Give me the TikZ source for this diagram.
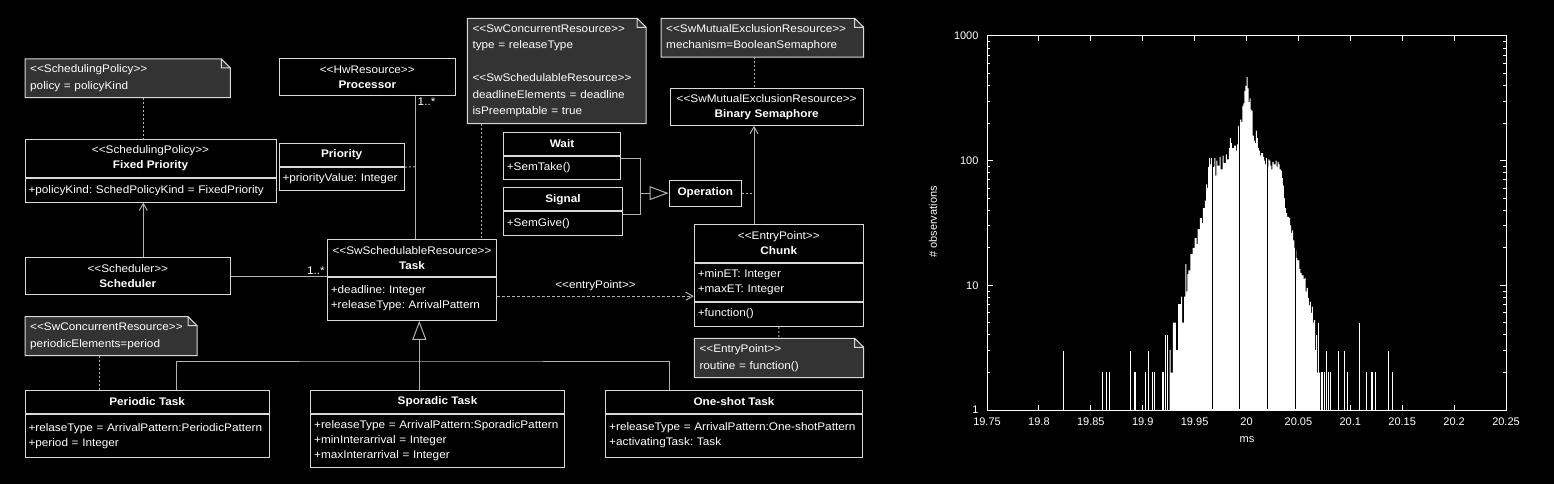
\documentclass[tikz,border=0pt]{standalone}
\usepackage{fontspec}
\setmainfont{Liberation Sans}[FakeStretch=1.07]
\newfontfamily\plotfont{Liberation Sans}
\usetikzlibrary{arrows.meta}
\usetikzlibrary{positioning}

\definecolor{boxline}{gray}{0.85}
\definecolor{linkline}{gray}{0.7}
\definecolor{notefill}{gray}{0.2}

\newcommand\stereo[1]{<\kern0pt<#1>\kern0pt>}
\frenchspacing

\tikzset{
  umltext/.style={text=white, font=\fontsize{11}{15}\selectfont},
  classhead/.style={umltext, draw=boxline, fill=black, line width=1pt, align=center, inner sep=2pt},
  classbody/.style={umltext, draw=boxline, fill=black, line width=1pt, align=left, inner xsep=3.5pt, inner ysep=2pt},
  umlnote/.style={umltext, font=\fontsize{11}{16.5}\selectfont, fill=notefill, anchor=north west, align=left, inner xsep=5pt, inner ysep=2pt},
  noteline/.style={draw=boxline, line width=1pt},
  assoc/.style={draw=linkline, line width=1pt},
  notelink/.style={assoc, dash pattern=on 2pt off 2pt},
  depend/.style={assoc, dash pattern=on 3pt off 2pt},
  navarrow/.style={-{Straight Barb[length=7pt, width=8pt]}},
  genarrow/.style={-{Triangle[open, length=19pt, width=14pt]}},
  linklabel/.style={umltext, inner sep=1.5pt},
  axisline/.style={draw=white, line width=1pt},
  ticklabel/.style={text=white, font=\plotfont\fontsize{11}{13}\selectfont},
}

\begin{document}
\begin{tikzpicture}[x=1pt, y=-1pt]
  \fill[black] (0,0) rectangle (1554,484);

  % notes
  \node[umlnote, text width=195pt, minimum height=38.3pt] (polnote) at (25,59) {\stereo{SchedulingPolicy}\\policy = policyKind};
  \node[umlnote, text width=168.4pt, minimum height=105pt] (tasknote) at (467.3,18.3) {\stereo{SwConcurrentResource}\\type = releaseType\\[16.5pt]\stereo{SwSchedulableResource}\\deadlineElements = deadline\\isPreemptable = true};
  \node[umlnote, text width=192.3pt, minimum height=38.4pt] (mutexnote) at (661,18.3) {\stereo{SwMutualExclusionResource}\\mechanism=BooleanSemaphore};
  \node[umlnote, text width=161.7pt, minimum height=38.6pt] (periodicnote) at (25,316.7) {\stereo{SwConcurrentResource}\\periodicElements=period};
  \node[umlnote, text width=159pt, minimum height=39pt] (chunknote) at (694.3,338.3) {\stereo{EntryPoint}\\routine = function()};
  \foreach \n in {polnote,tasknote,mutexnote,periodicnote,chunknote} {
    \fill[black] ([xshift=-9pt]\n.north east) -- (\n.north east) -- ([yshift=-9pt]\n.north east) -- cycle;
    \draw[noteline] (\n.south west) -- (\n.north west) -- ([xshift=-9pt]\n.north east) -- ([yshift=-9pt]\n.north east) -- (\n.south east) -- cycle
      ([xshift=-9pt]\n.north east) |- ([yshift=-9pt]\n.north east);
  }

  % classes
  \node[classhead, minimum width=251pt, minimum height=38.4pt] (fixed) at (150.5,158.5) {\stereo{SchedulingPolicy}\\\textbf{Fixed Priority}};
  \node[classbody, text width=244pt, minimum height=23.3pt, below=0pt of fixed] (fixedattr) {+policyKind: SchedPolicyKind = FixedPriority};

  \node[classhead, minimum width=125.3pt, minimum height=23.4pt] (prio) at (341.65,155) {\textbf{Priority}};
  \node[classbody, text width=118.3pt, minimum height=22.6pt, below=0pt of prio] (prioattr) {+priorityValue: Integer};

  \node[classhead, minimum width=176pt, minimum height=37pt] (proc) at (367.3,76.8) {\stereo{HwResource}\\\textbf{Processor}};
  \node[classhead, minimum width=205.7pt, minimum height=37pt] (sched) at (127.85,276.2) {\stereo{Scheduler}\\\textbf{Scheduler}};

  \node[classhead, minimum width=169.4pt, minimum height=36.7pt] (task) at (412,257.65) {\stereo{SwSchedulableResource}\\\textbf{Task}};
  \node[classbody, text width=162.4pt, minimum height=43.3pt, below=0pt of task] (taskattr) {+deadline: Integer\\+releaseType: ArrivalPattern};

  \node[classhead, minimum width=244.3pt, minimum height=23.3pt] (periodic) at (147.15,401.65) {\textbf{Periodic Task}};
  \node[classbody, text width=237.3pt, minimum height=43.4pt, below=0pt of periodic] (periodicattr) {+relaseType = ArrivalPattern:PeriodicPattern\\+period = Integer};

  \node[classhead, minimum width=253.6pt, minimum height=23.3pt] (sporadic) at (437.5,401.65) {\textbf{Sporadic Task}};
  \node[classbody, text width=246.6pt, minimum height=53.4pt, below=0pt of sporadic] (sporadicattr) {+releaseType = ArrivalPattern:SporadicPattern\\+minInterarrival = Integer\\+maxInterarrival = Integer};

  \node[classhead, minimum width=256.6pt, minimum height=22.6pt] (oneshot) at (734,402) {\textbf{One-shot Task}};
  \node[classbody, text width=249.6pt, minimum height=42.7pt, below=0pt of oneshot] (oneshotattr) {+releaseType = ArrivalPattern:One-shotPattern\\+activatingTask: Task};

  \node[classhead, minimum width=117.4pt, minimum height=23pt] (wait) at (562,143.8) {\textbf{Wait}};
  \node[classbody, text width=110.4pt, minimum height=23.4pt, below=0pt of wait] (waitop) {+SemTake()};

  \node[classhead, minimum width=119.4pt, minimum height=23pt] (signal) at (563,199.2) {\textbf{Signal}};
  \node[classbody, text width=112.4pt, minimum height=23.3pt, below=0pt of signal] (signalop) {+SemGive()};

  \node[classhead, minimum width=72.7pt, minimum height=25.7pt] (oper) at (705.35,193.15) {\textbf{Operation}};
  \node[classhead, minimum width=193.3pt, minimum height=37pt] (binsem) at (766.65,106.8) {\stereo{SwMutualExclusionResource}\\\textbf{Binary Semaphore}};

  \node[classhead, minimum width=169pt, minimum height=37.6pt] (chunk) at (778.8,243.5) {\stereo{EntryPoint}\\\textbf{Chunk}};
  \node[classbody, text width=162pt, minimum height=37.7pt, below=0pt of chunk] (chunkattr) {+minET: Integer\\+maxET: Integer};
  \node[classbody, text width=162pt, minimum height=24.3pt, below=0pt of chunkattr] (chunkop) {+function()};

  % connectors
  \draw[notelink] (143.3,0 |- polnote.south) -- (143.3,0 |- fixed.north);
  \draw[assoc, navarrow] (143.3,0 |- sched.north) -- (143.3,0 |- fixedattr.south);
  \draw[assoc] (sched.east) -- node[linklabel, pos=1, above left] {1..*} (sched.east -| task.west);

  \coordinate (prioline) at (415.7,166.7);
  \draw[assoc] (415.7,0 |- proc.south) -- node[linklabel, pos=0, below right] {1..*} (415.7,0 |- task.north);
  \draw[notelink] (prio.south east) -- (prioline);
  \draw[notelink] (481.7,0 |- tasknote.south) -- (481.7,0 |- task.north);

  \coordinate (opjoin) at (640,193.15);
  \draw[assoc] ([yshift=-3pt]wait.south east) -| (opjoin) |- ([yshift=-3pt]signal.south east);
  \draw[assoc, genarrow] (opjoin) -- (oper.west);
  \coordinate (semline) at (754,193.15);
  \draw[notelink] (oper.east) -- (semline);
  \draw[assoc, navarrow] (754,0 |- chunk.north) -- (754,0 |- binsem.south);
  \draw[notelink] (754,0 |- mutexnote.south) -- (754,0 |- binsem.north);

  \draw[depend, navarrow] ([yshift=2.5pt]taskattr.east) -- node[linklabel, above=3pt] {\stereo{entryPoint}} ([yshift=2.5pt]taskattr.east -| chunkattr.west);
  \draw[notelink] (chunkop.south) -- (chunknote.north);
  \draw[notelink] (99,0 |- periodicnote.south) -- (99,0 |- periodic.north);

  \coordinate (genjoin) at (419.3,361);
  \draw[assoc, genarrow] (genjoin) -- (genjoin |- taskattr.south);
  \draw[assoc] (176,0 |- periodic.north) |- (genjoin) -| (669.3,0 |- oneshot.north);
  \draw[assoc] (genjoin) -- (genjoin |- sporadic.north);

  % histogram
  \begin{scope}[shift={(987,410)}, x=1.038pt, y=124.67pt]
    \fill[white] (176,0) \foreach \u/\l in {176/0.30, 177/0.48, 179/0.30, 180/0.70, 182/0.70, 184/0.48, 185/0.85, 187/0.85, 188/0.91, 190/0.70,
        191/0.91, 192/1.17, 193/0.95, 194/1.09, 196/1.12, 198/1.25, 200/1.30, 202/1.38, 203/1.33, 205/1.45, 207/1.54, 208/1.50,
        210/1.62, 211/1.68, 212/1.81, 213/1.78, 214/1.95, 215/2.02, 216/1.97, 217/2.02, 219/1.95, 220/2.02, 221/1.88, 222/2.00,
        224/1.96, 225/2.03, 227/1.93, 228/2.04, 230/1.98, 231/2.05, 233/2.01, 234/2.10, 235/2.18, 236/2.14, 238/2.10, 240/2.12,
        241/2.08, 242/2.13, 243/2.28, 245/2.33, 246/2.31, 247/2.44, 248/2.46, 249/2.56, 250/2.60, 251/2.67, 252/2.58, 253/2.47,
        254/2.50, 255/2.41, 256/2.40, 257/2.20, 258/2.16, 259/2.14, 260/2.24, 261/2.18, 262/2.10, 263/2.08, 264/2.04, 266/2.06,
        267/2.03, 268/2.00, 269/1.97, 270/2.02, 271/1.95, 272/2.01, 273/2.00, 274/1.96, 275/1.93, 276/1.99, 278/1.97, 279/2.00,
        280/1.95, 281/1.99, 282/1.97, 283/1.93, 284/1.92, 285/1.86, 286/1.80, 287/1.70, 288/1.62, 289/1.58, 291/1.55, 292/1.54,
        293/1.48, 294/1.42, 295/1.44, 296/1.36, 297/1.30, 298/1.28, 299/1.22, 300/1.20, 301/1.20, 302/1.13, 303/1.10, 305/1.08,
        306/1.05, 307/1.06, 308/0.95, 309/0.98, 310/0.90, 311/0.84, 312/0.87, 313/0.78, 314/0.83, 315/0.70, 316/0.72, 317/0.48,
        318/0.60, 319/0.30, 321/0.30} { |- (\u,\l) } |- (322,0) -- cycle;
    \foreach \u/\l in {74/0.477, 111/0.301, 115/0.301, 118/0.301, 138/0.477, 142/0.301, 143/0.301, 153/0.301, 156/0.477,
        159/0.301, 161/0.301, 169/0.301, 170/0.301, 172/0.602, 174/0.602, 319.5/0.699, 322/0.301, 323.5/0.301, 325.3/0.301,
        327/0.477, 329/0.301, 331/0.301, 338.5/0.477, 344/0.477, 347.5/0.301, 358.7/0.699, 365.4/0.301, 370.3/0.301,
        371.5/0.301, 374.4/0.301, 387/0.477, 390.5/0.301}
      \draw[white, line width=1pt] (\u,0) -- (\u,\l);
    \foreach \u in {217,243,270,297}
      \draw[black, line width=1.2pt] (\u,0.01) -- (\u,2.75);

    % axes
    \draw[axisline] (0,0) rectangle (500,3);
    \foreach \u/\l in {0/19.75, 50/19.8, 100/19.85, 150/19.9, 200/19.95, 250/20, 300/20.05, 350/20.1, 400/20.15, 450/20.2, 500/20.25} {
      \draw[axisline] (\u,0) -- ++(0,5pt);
      \draw[axisline] (\u,3) -- ++(0,-5pt);
      \node[ticklabel] at ([yshift=-12pt]\u,0) {\l};
    }
    \foreach \k/\l in {0/1, 1/10, 2/100, 3/1000} {
      \draw[axisline] (0,\k) -- ++(6pt,0);
      \draw[axisline] (500,\k) -- ++(-6pt,0);
      \node[ticklabel, anchor=east] at ([xshift=-5pt]0,\k) {\l};
    }
    \foreach \k in {0,1,2}
      \foreach \m in {2,...,9} {
        \draw[axisline] (0,{\k+log10(\m)}) -- ++(3pt,0);
        \draw[axisline] (500,{\k+log10(\m)}) -- ++(-3pt,0);
      }
  \end{scope}
  \node[ticklabel, rotate=90] (ylabel) at (933,222) {\# observations};
  \node[ticklabel] (xlabel) at (1247,440) {ms};
\end{tikzpicture}
\end{document}
